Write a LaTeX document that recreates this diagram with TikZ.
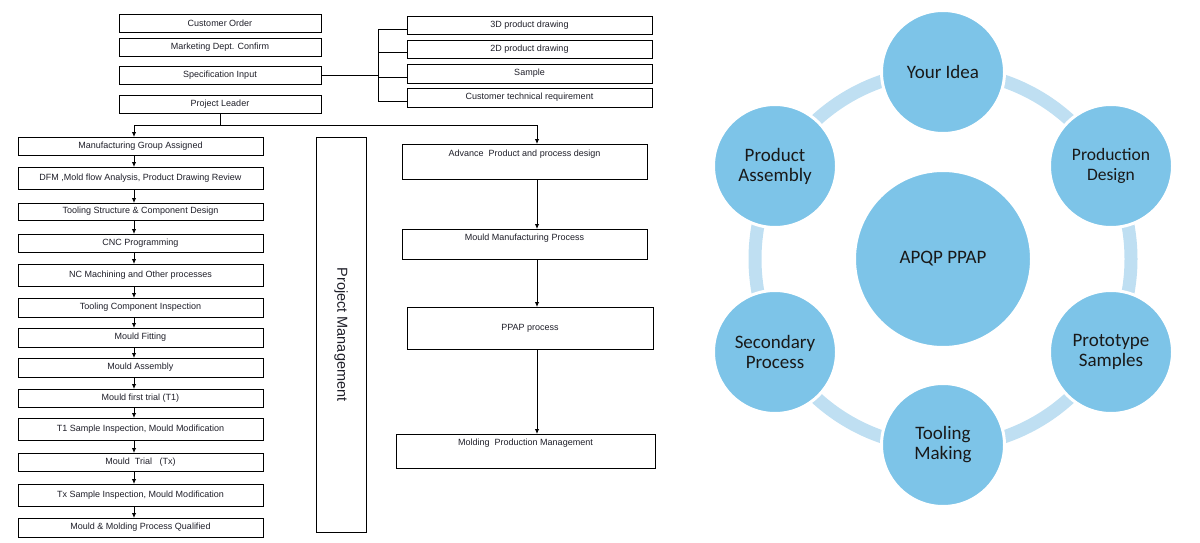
\documentclass[tikz,border=0pt]{standalone}
\usepackage{fontspec}
\setmainfont{Liberation Sans}
\newfontfamily\circfont{Carlito}
\usetikzlibrary{arrows.meta,positioning,calc}
\definecolor{bubble}{HTML}{7DC4E8}
\definecolor{ringblue}{HTML}{BFDFF2}
\definecolor{inkgray}{HTML}{1E1E28}
\tikzset{
  box/.style={draw,line width=0.9pt,inner sep=0pt,outer sep=0pt,text=inkgray,font=\fontsize{9}{10}\selectfont},
  arr/.style={-{Latex[length=5pt,width=4.5pt]},line width=0.9pt},
  bubblenode/.style={circle,fill=bubble,draw=white,line width=3pt,minimum size=123pt,inner sep=0pt,align=center,text=black!90,font=\circfont\fontsize{19}{20}\selectfont},
}

\begin{document}
\begin{tikzpicture}[x=1pt,y=-1pt]
\useasboundingbox (0,0) rectangle (1200,543);
% top of the flow
\node[box,minimum width=202pt,minimum height=18pt] (order) at (220,23){Customer Order};
\node[box,minimum width=202pt,minimum height=18pt] (mkt) at (220,47){Marketing Dept. Confirm};
\node[box,minimum width=202pt,minimum height=18pt] (spec) at (220,75){Specification Input};
\node[box,minimum width=202pt,minimum height=18pt] (pl) at (220,104){Project Leader};
\node[box,minimum width=245pt,minimum height=18pt] (d3) at (529.5,25){3D product drawing};
\node[box,minimum width=245pt,minimum height=18pt] (d2) at (529.5,49){2D product drawing};
\node[box,minimum width=245pt,minimum height=19pt] (smp) at (529.5,73.5){Sample};
\node[box,minimum width=245pt,minimum height=19pt] (ctr) at (529.5,97.5){Customer technical requirement};
\coordinate (bx) at (378,0);
\draw[line width=0.9pt] (spec.east) -- (spec.east -| bx);
\draw[line width=0.9pt] ([yshift=-4pt]d3.west) -| (bx |- 0,29) |- ([yshift=-4pt]ctr.west);
\draw[line width=0.9pt] ([yshift=-3pt]d2.west) -- ([yshift=-3pt]d2.west -| bx);
\draw[line width=0.9pt] ([yshift=-3.5pt]smp.west) -- ([yshift=-3.5pt]smp.west -| bx);
% left column
\coordinate (lx) at (134,0);
\foreach \i/\yc/\h/\t in {1/146/18/{Manufacturing Group Assigned},
  2/178/22/{DFM ,Mold flow Analysis, Product Drawing Review},
  3/211.5/17/{Tooling Structure \& Component Design},
  4/243/18/{CNC Programming},
  5/275/22/{NC Machining and Other processes},
  6/307.5/19/{Tooling Component Inspection},
  7/337.5/19/{Mould Fitting},
  8/367.5/19/{Mould Assembly},
  9/398/18/{Mould first trial (T1)},
  10/429/22/{T1 Sample Inspection, Mould Modification},
  11/462/18/{Mould~ Trial~~ (Tx)},
  12/495/22/{Tx Sample Inspection, Mould Modification},
  13/527.5/19/{Mould \& Molding Process Qualified}}{
  \node[box,minimum width=245pt,minimum height=\h pt] (m\i) at (140.5,\yc){\t};
}
\foreach \i [evaluate=\i as \j using int(\i+1)] in {1,...,12}
  \draw[arr] (m\i.south -| lx) -- (m\j.north -| lx);
% project management
\node[draw,line width=0.9pt,minimum width=50pt,minimum height=395pt,inner sep=0pt,text=inkgray,font=\fontsize{14.5}{16}\selectfont] (pm) at (341,334.5){\rotatebox{-90}{Project Management}};
% right column
\node[box,minimum width=245pt,text height=12.5pt,text depth=22.5pt,inner ysep=0pt] (adv) at (524.5,161.5){Advance~ Product and process design};
\node[box,minimum width=245pt,text height=11.5pt,text depth=18.5pt,inner ysep=0pt] (mmp) at (524.5,244){Mould Manufacturing Process};
\node[box,minimum width=246pt,minimum height=42pt] (ppap) at (530,328){PPAP process};
\node[box,minimum width=259pt,text height=11.5pt,text depth=22.5pt,inner ysep=0pt] (mpm) at (525.5,451){Molding~ Production Management};
\coordinate (rx) at (537,0);
\coordinate (pj) at ($(pl.south)+(0,12)$);
\draw[line width=0.9pt] (pl.south) -- (pj);
\draw[arr] (pj) -| (m1.north -| lx);
\draw[arr] (pj) -| (adv.north -| rx);
\draw[arr] (adv.south -| rx) -- (mmp.north -| rx);
\draw[arr] (mmp.south -| rx) -- (ppap.north -| rx);
\draw[arr] (ppap.south -| rx) -- (mpm.north -| rx);
% APQP wheel
\coordinate (wc) at (943,259);
\draw[ringblue,line width=13pt] (wc) circle[radius=188];
\node[bubblenode,minimum size=177pt] (hub) at (wc){APQP PPAP};
\node[bubblenode] (idea) at (943,72){Your Idea};
\node[bubblenode,font=\circfont\fontsize{17.5}{20}\selectfont] (pdes) at (1111,166){Production\\Design};
\node[bubblenode] (proto) at (1111,352){Prototype\\Samples};
\node[bubblenode] (tool) at (943,445){Tooling\\Making};
\node[bubblenode] (sec) at (775,352){Secondary\\Process};
\node[bubblenode] (asm) at (775,166){Product\\Assembly};
\end{tikzpicture}
\end{document}
